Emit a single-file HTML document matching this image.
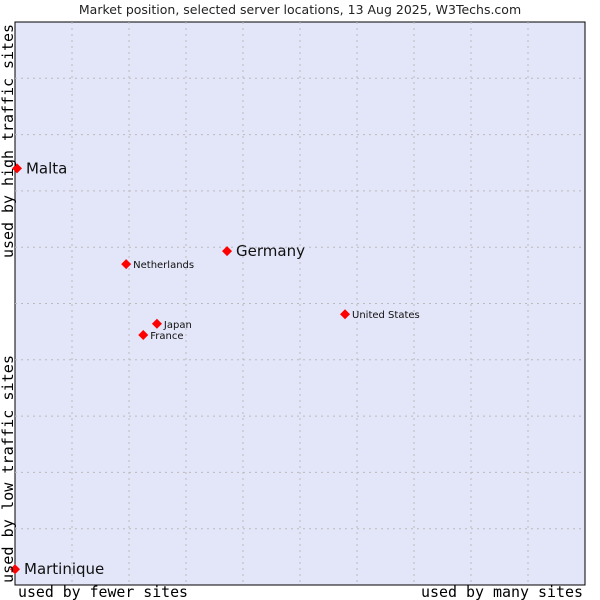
<!DOCTYPE html>
<html><head><meta charset="utf-8"><style>
body{margin:0;background:#fff;width:600px;height:600px;overflow:hidden}
svg{display:block}
</style></head><body>
<svg width="600" height="600" xmlns="http://www.w3.org/2000/svg">
<text x="300" y="14" text-anchor="middle" font-family="DejaVu Sans, sans-serif" font-size="12.5" fill="#222">Market position, selected server locations, 13 Aug 2025, W3Techs.com</text>
<rect x="15" y="22" width="570" height="563" fill="#e3e5f8" stroke="#000" stroke-width="1"/>
<g id="grid"></g>
<g id="pts"></g>
<text x="18" y="597" textLength="170" lengthAdjust="spacingAndGlyphs" font-family="DejaVu Sans Mono, Liberation Mono, monospace" font-size="15" fill="#000">used by fewer sites</text>
<text x="421" y="597" textLength="162" lengthAdjust="spacingAndGlyphs" font-family="DejaVu Sans Mono, Liberation Mono, monospace" font-size="15" fill="#000">used by many sites</text>
<text transform="translate(13,583) rotate(-90)" textLength="228" lengthAdjust="spacingAndGlyphs" font-family="DejaVu Sans Mono, Liberation Mono, monospace" font-size="15" fill="#000">used by low traffic sites</text>
<text transform="translate(13,258) rotate(-90)" textLength="234" lengthAdjust="spacingAndGlyphs" font-family="DejaVu Sans Mono, Liberation Mono, monospace" font-size="15" fill="#000">used by high traffic sites</text>
</svg>
<script>
const names=["Malta","Germany","Netherlands","United States","Japan","France","Martinique"];
const xVals=[0.35,37.2,19.5,57.9,24.9,22.5,0];
const yVals=[74,59.3,57.0,48.1,46.4,44.4,2.8];
const big=[true,true,false,false,false,false,true];
const X0=15,X1=585,Y0=585,Y1=22;
const sx=v=>X0+(X1-X0)*v/100, sy=v=>Y0-(Y0-Y1)*v/100;
const NS="http://www.w3.org/2000/svg";
const g=document.getElementById('grid');
for(let i=1;i<10;i++){
 const v=document.createElementNS(NS,'line');
 v.setAttribute('x1',sx(i*10));v.setAttribute('x2',sx(i*10));v.setAttribute('y1',Y1);v.setAttribute('y2',Y0);
 v.setAttribute('stroke','#bbb');v.setAttribute('stroke-dasharray','2,4');
 
 
 g.appendChild(v);
 const h=document.createElementNS(NS,'line');
 h.setAttribute('y1',sy(i*10));h.setAttribute('y2',sy(i*10));h.setAttribute('x1',X0);h.setAttribute('x2',X1);
 h.setAttribute('stroke','#bbb');h.setAttribute('stroke-dasharray','2,4');
 
 
 g.appendChild(h);
}
const p=document.getElementById('pts');
names.forEach((n,i)=>{
 const x=sx(xVals[i]),y=sy(yVals[i]);
 const d=document.createElementNS(NS,'path');
 d.setAttribute('d',`M${x-5},${y}L${x},${y-5}L${x+5},${y}L${x},${y+5}Z`);
 d.setAttribute('fill','#f00');
 
 
 p.appendChild(d);
 const t=document.createElementNS(NS,'text');
 t.setAttribute('x',x+(big[i]?9:7));t.setAttribute('y',y+(big[i]?5:4));
 t.setAttribute('font-family','DejaVu Sans, sans-serif');
 t.setAttribute('font-size',big[i]?15:10);t.setAttribute('fill','#111');
 t.textContent=n;
 
 
 p.appendChild(t);
});
</script>
</body></html>
